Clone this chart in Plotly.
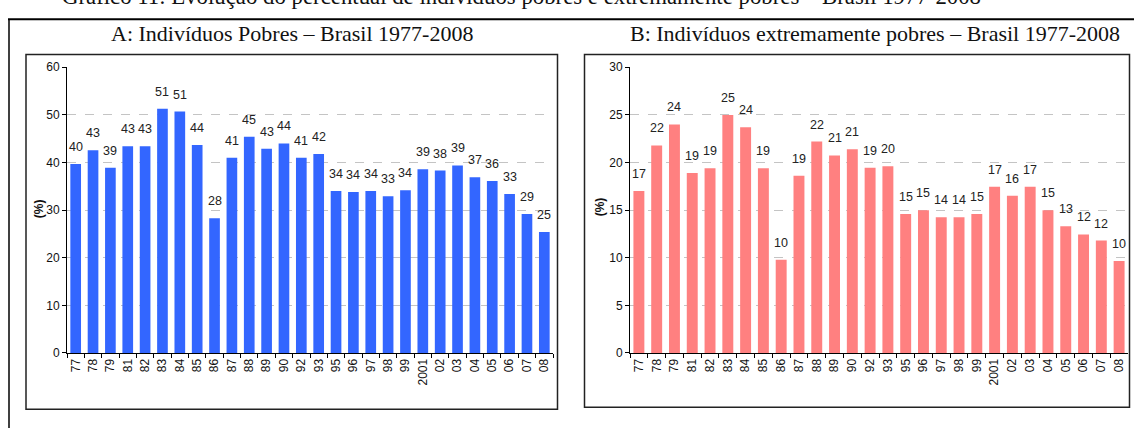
import plotly.graph_objects as go

# Survey years (two-digit labels as published)
years = ["77", "78", "79", "81", "82", "83", "84", "85", "86", "87", "88", "89",
         "90", "92", "93", "95", "96", "97", "98", "99", "2001", "02", "03",
         "04", "05", "06", "07", "08"]

# Share of poor individuals (%)
pobres = [39.7, 42.6, 38.9, 43.4, 43.4, 51.3, 50.7, 43.7, 28.3, 41.0, 45.4, 42.9,
          44.0, 41.0, 41.8, 34.0, 33.8, 34.0, 32.9, 34.2, 38.6, 38.3, 39.4,
          36.9, 36.1, 33.4, 29.2, 25.4]

# Share of extremely poor individuals (%)
ext_pobres = [17.0, 21.8, 24.0, 18.9, 19.4, 25.0, 23.7, 19.4, 9.8, 18.6, 22.2, 20.75,
              21.4, 19.45, 19.6, 14.6, 15.0, 14.25, 14.25, 14.6, 17.45, 16.5, 17.45,
              15.0, 13.3, 12.45, 11.8, 9.65]

caption = "Gráfico 11: Evolução do percentual de indivíduos pobres e extremamente pobres – Brasil 1977-2008"
title_a = "A: Indivíduos Pobres – Brasil 1977-2008"
title_b = "B: Indivíduos extremamente pobres – Brasil 1977-2008"

W, H = 1134, 435
SANS = "Liberation Sans, Arial, sans-serif"
SERIF = "Liberation Serif, Times New Roman, serif"


def px_x(x):
    return x / W


def px_y(y):
    return 1 - y / H


fig = go.Figure()

fig.add_trace(go.Bar(x=years, y=pobres, marker=dict(color="#3366FF", line=dict(width=0)),
                     xaxis="x", yaxis="y", hoverinfo="x+y"))
fig.add_trace(go.Bar(x=years, y=ext_pobres, marker=dict(color="#FF8080", line=dict(width=0)),
                     xaxis="x2", yaxis="y2", hoverinfo="x+y"))

xcommon = dict(type="category", categoryorder="array", categoryarray=years,
               range=[-0.5, len(years) - 0.5], autorange=False,
               showline=True, linecolor="#000", linewidth=1,
               ticks="outside", tickson="boundaries", ticklen=4, tickcolor="#000",
               tickangle=-90, tickfont=dict(family=SANS, size=12, color="#111"),
               showgrid=False, fixedrange=True)
ycommon = dict(showline=True, linecolor="#000", linewidth=1, ticks="outside",
               ticklen=4, tickcolor="#000", tickfont=dict(family=SANS, size=12, color="#111"),
               showgrid=True, gridcolor="#c4c4c4", griddash="dash", gridwidth=1,
               zeroline=False, fixedrange=True, autorange=False)

ytop, ybot = px_y(62.3), px_y(357.5)

fig.update_layout(
    width=W, height=H,
    margin=dict(l=0, r=0, t=0, b=0),
    paper_bgcolor="white", plot_bgcolor="white",
    showlegend=False,
    bargap=0.385,
    xaxis=dict(domain=[px_x(67), px_x(553)], anchor="y", **xcommon),
    yaxis=dict(domain=[ybot, ytop], anchor="x", range=[0, 60], dtick=10, **ycommon),
    xaxis2=dict(domain=[px_x(630), px_x(1128)], anchor="y2", **xcommon),
    yaxis2=dict(domain=[ybot, ytop], anchor="x2", range=[0, 30], dtick=5, **ycommon),
)

annotations = []
# value labels above each bar (x given as category index)
for xa, ya, vals in (("x", "y", pobres), ("x2", "y2", ext_pobres)):
    for i, v in enumerate(vals):
        annotations.append(dict(x=i, y=v, xref=xa, yref=ya, text=f"{v:.0f}",
                                showarrow=False, xanchor="center", yanchor="middle",
                                yshift=17,
                                font=dict(family=SANS, size=12.5, color="#222")))

# axis titles
for xpos, ypos in ((39, 209), (600, 207)):
    annotations.append(dict(x=px_x(xpos), y=px_y(ypos), xref="paper", yref="paper",
                            text="<b>(%)</b>", textangle=-90, showarrow=False,
                            xanchor="center", yanchor="middle",
                            font=dict(family=SANS, size=12, color="#111")))

# panel titles
annotations.append(dict(x=px_x(292), y=px_y(27), xref="paper", yref="paper", text=title_a,
                        showarrow=False, xanchor="center", yanchor="middle",
                        font=dict(family=SERIF, size=22, color="#111")))
annotations.append(dict(x=px_x(875), y=px_y(27), xref="paper", yref="paper", text=title_b,
                        showarrow=False, xanchor="center", yanchor="middle",
                        font=dict(family=SERIF, size=22, color="#111")))
# figure caption, running off the top edge
annotations.append(dict(x=px_x(521), y=1, xref="paper", yref="paper", text=caption,
                        showarrow=False, xanchor="center", yanchor="bottom", yshift=-4,
                        font=dict(family=SERIF, size=22.8, color="#111")))

fig.update_layout(annotations=annotations)

shapes = [
    # panel frames
    dict(type="rect", xref="paper", yref="paper", x0=px_x(26), x1=px_x(557.5),
         y0=px_y(415.5), y1=px_y(49), line=dict(color="#222", width=1.5)),
    dict(type="rect", xref="paper", yref="paper", x0=px_x(584.5), x1=px_x(1129.5),
         y0=px_y(413.5), y1=px_y(49), line=dict(color="#222", width=1.5)),
    # outer rule and left border
    dict(type="line", xref="paper", yref="paper", x0=px_x(8), x1=1,
         y0=px_y(12.7), y1=px_y(12.7), line=dict(color="#000", width=2)),
    dict(type="line", xref="paper", yref="paper", x0=px_x(9), x1=px_x(9),
         y0=px_y(12.7), y1=0, line=dict(color="#000", width=1.5)),
]
fig.update_layout(shapes=shapes)

fig.write_html("out.html")
